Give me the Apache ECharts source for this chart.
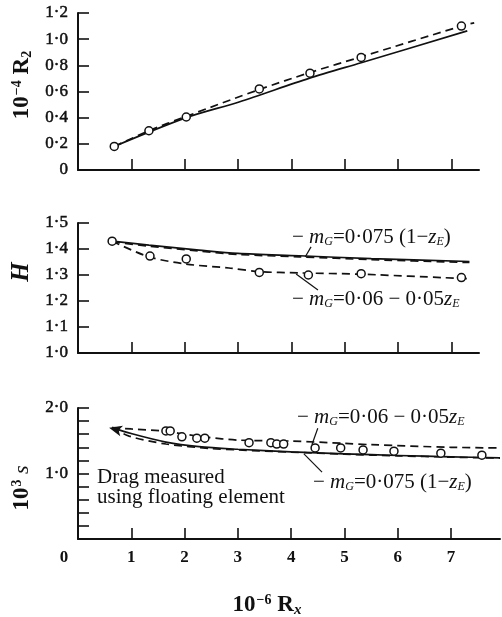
<!DOCTYPE html>
<html><head><meta charset="utf-8">
<script src="https://cdn.jsdelivr.net/npm/echarts@6/dist/echarts.min.js"></script>
<style>html,body{margin:0;padding:0;background:#fff}#c{width:502px;height:617px}</style>
</head><body><div id="c"></div>
<script>
// ---------- data ----------
const xTickValues = [1, 2, 3, 4, 5, 6, 7];
const xLabelValues = [0, 1, 2, 3, 4, 5, 6, 7];
const r2TickLabels = [0, 0.2, 0.4, 0.6, 0.8, 1.0, 1.2];
const hTickLabels = [1.0, 1.1, 1.2, 1.3, 1.4, 1.5];
const sTickLabels = [1.0, 2.0];

// panel 1 : 10^-4 R2
const r2PtsX = [0.68, 1.33, 2.03, 3.40, 4.35, 5.31, 7.19];
const r2PtsY = [0.18, 0.30, 0.405, 0.62, 0.74, 0.86, 1.10];
const r2DashX = [0.68, 1.33, 2.03, 3.40, 4.35, 5.31, 7.19, 7.43];
const r2DashY = [0.18, 0.30, 0.41, 0.615, 0.745, 0.865, 1.10, 1.125];
const r2SolidX = [0.68, 2.03, 3.02, 4.33, 5.31, 7.30];
const r2SolidY = [0.18, 0.40, 0.52, 0.70, 0.82, 1.063];

// panel 2 : H
const hPtsX = [0.64, 1.35, 2.03, 3.40, 4.32, 5.31, 7.19];
const hPtsY = [1.43, 1.373, 1.362, 1.31, 1.30, 1.305, 1.29];
const hSolidX = [0.64, 1.33, 2.27, 3.0, 4.15, 5.5, 7.34];
const hSolidY = [1.43, 1.415, 1.396, 1.383, 1.374, 1.363, 1.352];
const hDashAX = [0.64, 1.33, 2.27, 3.0, 4.15, 5.5, 7.34];
const hDashAY = [1.428, 1.411, 1.392, 1.379, 1.370, 1.359, 1.348];
const hDashBX = [0.64, 1.33, 2.03, 2.83, 3.40, 4.15, 5.31, 7.37];
const hDashBY = [1.43, 1.37, 1.342, 1.327, 1.313, 1.308, 1.303, 1.285];

// panel 3 : 10^3 s
const sPtsX = [1.65, 1.73, 1.95, 2.23, 2.38, 3.21, 3.62, 3.73, 3.86, 4.45, 4.93, 5.35, 5.93, 6.81, 7.58];
const sPtsY = [1.65, 1.65, 1.56, 1.54, 1.54, 1.47, 1.47, 1.45, 1.45, 1.39, 1.39, 1.36, 1.34, 1.31, 1.28];
const sUpperX = [0.64, 1.0, 1.65, 2.0, 2.4, 3.0, 4.0, 5.0, 5.5, 7.0, 7.92];
const sUpperY = [1.70, 1.68, 1.645, 1.60, 1.555, 1.51, 1.495, 1.46, 1.44, 1.40, 1.39];
const sSolidX = [0.64, 1.0, 1.65, 2.27, 3.0, 4.0, 5.0, 6.0, 7.0, 7.92];
const sSolidY = [1.70, 1.61, 1.48, 1.41, 1.37, 1.33, 1.30, 1.275, 1.255, 1.24];
const sLowerX = [0.64, 0.96, 1.65, 2.5, 3.0, 4.0, 5.0, 6.0, 7.0, 7.92];
const sLowerY = [1.70, 1.57, 1.45, 1.38, 1.36, 1.325, 1.295, 1.27, 1.25, 1.235];
const sArrow = [0.64, 1.70];

// ---------- helpers ----------
const zip = (xs, ys) => xs.map((x, i) => [x, ys[i]]);
const dot = v => (v === 0 ? '0' : v.toFixed(1).replace('.', '\u00b7'));
const SERIF = '"Liberation Serif", "DejaVu Serif", serif';
const BLACK = '#111';

function xAxis(gi, max, showLabels) {
  return {
    type: 'value', gridIndex: gi, min: 0, max: max,
    axisLine: { show: true, lineStyle: { color: BLACK, width: 2 } },
    axisTick: { show: true, inside: true, length: 11, customValues: xTickValues, lineStyle: { color: BLACK, width: 1.6 } },
    axisLabel: showLabels ? {
      show: true, customValues: xLabelValues, margin: 10,
      fontFamily: SERIF, fontSize: 17, fontWeight: 'bold', color: BLACK,
      formatter: v => v === 0 ? '{z|0}' : String(v),
      rich: { z: { fontFamily: SERIF, fontSize: 17, fontWeight: 'bold', color: BLACK, padding: [0, 28, 0, 0] } }
    } : { show: false },
    splitLine: { show: false }
  };
}
function yAxis(gi, min, max, interval, labels) {
  return {
    type: 'value', gridIndex: gi, min: min, max: max, interval: interval,
    axisLine: { show: true, onZero: false, lineStyle: { color: BLACK, width: 2 } },
    axisTick: { show: true, inside: true, length: 11, lineStyle: { color: BLACK, width: 1.6 } },
    axisLabel: { show: true, customValues: labels, margin: 10, fontFamily: SERIF, fontSize: 17, color: BLACK,
      textBorderColor: BLACK, textBorderWidth: 0.5, formatter: v => dot(v) },
    splitLine: { show: false }
  };
}
function line(gi, xs, ys, dashed, extra) {
  return Object.assign({
    type: 'line', xAxisIndex: gi, yAxisIndex: gi, data: zip(xs, ys),
    showSymbol: false, symbol: 'none', smooth: 0.3, silent: true, animation: false,
    lineStyle: { color: BLACK, width: 1.7, type: dashed ? [8, 5] : 'solid' }
  }, extra || {});
}
function pts(gi, xs, ys) {
  return {
    type: 'scatter', xAxisIndex: gi, yAxisIndex: gi, data: zip(xs, ys), z: 5,
    symbol: 'circle', symbolSize: 8, animation: false,
    itemStyle: { color: '#fff', borderColor: BLACK, borderWidth: 1.5, opacity: 1 }
  };
}
function leader(gi, a, b) {
  return {
    type: 'line', xAxisIndex: gi, yAxisIndex: gi, data: [], silent: true, animation: false,
    markLine: { silent: true, symbol: 'none', animation: false, label: { show: false },
      lineStyle: { color: BLACK, width: 1.2, type: 'solid' },
      data: [[{ coord: a }, { coord: b }]] }
  };
}

const formulaRich = {
  n: { fontFamily: SERIF, fontSize: 21, color: BLACK },
  i: { fontFamily: SERIF, fontSize: 21, fontStyle: 'italic', color: BLACK },
  s: { fontFamily: SERIF, fontSize: 12, fontStyle: 'italic', color: BLACK, padding: [10, 0, 0, 0] }
};
const f075 = '{n|\u2212 }{i|m}{s|G}{n|=0\u00b7075 (1\u2212}{i|z}{s|E}{n|)}';
const f006 = '{n|\u2212 }{i|m}{s|G}{n|=0\u00b706 \u2212 0\u00b705}{i|z}{s|E}';
function ftext(x, y, t) {
  return { type: 'text', x: x, y: y, z: 10, style: { text: t, rich: formulaRich, align: 'left', verticalAlign: 'middle', fill: BLACK } };
}

const chart = echarts.init(document.getElementById('c'), null, { renderer: 'canvas' });
chart.setOption({
  backgroundColor: '#fff',
  animation: false,
  grid: [
    { left: 78, top: 13, width: 401, height: 157 },
    { left: 78, top: 223, width: 401, height: 130 },
    { left: 78, top: 408, width: 422, height: 131 }
  ],
  xAxis: [xAxis(0, 7.52, false), xAxis(1, 7.52, false), xAxis(2, 7.92, true)],
  yAxis: [
    yAxis(0, 0, 1.2, 0.2, r2TickLabels),
    yAxis(1, 1.0, 1.5, 0.1, hTickLabels),
    yAxis(2, 0, 2.0, 0.2, sTickLabels)
  ],
  series: [
    line(0, r2DashX, r2DashY, true),
    line(0, r2SolidX, r2SolidY, false),
    pts(0, r2PtsX, r2PtsY),

    line(1, hSolidX, hSolidY, false),
    line(1, hDashAX, hDashAY, true),
    line(1, hDashBX, hDashBY, true),
    pts(1, hPtsX, hPtsY),
    leader(1, [4.26, 1.369], [4.37, 1.408]),
    leader(1, [4.09, 1.304], [4.50, 1.242]),

    line(2, sUpperX, sUpperY, true),
    line(2, sSolidX, sSolidY, false),
    line(2, sLowerX, sLowerY, true),
    pts(2, sPtsX, sPtsY),
    { type: 'scatter', xAxisIndex: 2, yAxisIndex: 2, data: [sArrow], symbol: 'arrow', symbolSize: [8, 13], symbolRotate: 75,
      symbolOffset: [-3, 0], itemStyle: { color: BLACK, opacity: 1 }, z: 6, animation: false },
    leader(2, [4.50, 1.69], [4.39, 1.44]),
    leader(2, [4.24, 1.30], [4.58, 1.02])
  ],
  graphic: [
    { type: 'text', x: 22, y: 85, rotation: Math.PI / 2, style: {
      text: '{a|10}{p|\u22124}{a| R}{b|2}', align: 'center', verticalAlign: 'middle',
      rich: { a: { fontFamily: SERIF, fontSize: 23, fontWeight: 'bold', fill: BLACK },
              p: { fontFamily: SERIF, fontSize: 14, fontWeight: 'bold', fill: BLACK, padding: [0, 0, 10, 1] },
              b: { fontFamily: SERIF, fontSize: 14, fontWeight: 'bold', fill: BLACK, padding: [10, 0, 0, 0] } } } },
    { type: 'text', x: 22, y: 272, rotation: Math.PI / 2, style: {
      text: 'H', align: 'center', verticalAlign: 'middle', font: 'italic bold 25px ' + SERIF, fill: BLACK } },
    { type: 'text', x: 22, y: 488, rotation: Math.PI / 2, style: {
      text: '{a|10}{p|3}{i| s}', align: 'center', verticalAlign: 'middle',
      rich: { a: { fontFamily: SERIF, fontSize: 23, fontWeight: 'bold', fill: BLACK },
              p: { fontFamily: SERIF, fontSize: 14, fontWeight: 'bold', fill: BLACK, padding: [0, 0, 10, 1] },
              i: { fontFamily: SERIF, fontSize: 22, fontStyle: 'italic', fill: BLACK } } } },
    { type: 'text', x: 267, y: 605, style: {
      text: '{a|10}{p|\u22126}{a| R}{b|x}', align: 'center', verticalAlign: 'middle',
      rich: { a: { fontFamily: SERIF, fontSize: 23, fontWeight: 'bold', fill: BLACK },
              p: { fontFamily: SERIF, fontSize: 14, fontWeight: 'bold', fill: BLACK, padding: [0, 0, 10, 1] },
              b: { fontFamily: SERIF, fontSize: 15, fontStyle: 'italic', fontWeight: 'bold', fill: BLACK, padding: [10, 0, 0, 0] } } } },
    ftext(292, 237, f075),
    ftext(292, 299, f006),
    ftext(297, 417, f006),
    ftext(313, 482, f075),
    { type: 'text', x: 97, y: 477, style: { text: 'Drag measured', font: '21px ' + SERIF, fill: BLACK, align: 'left', verticalAlign: 'middle' } },
    { type: 'text', x: 97, y: 497, style: { text: 'using floating element', font: '21px ' + SERIF, fill: BLACK, align: 'left', verticalAlign: 'middle' } }
  ]
});
</script></body></html>
